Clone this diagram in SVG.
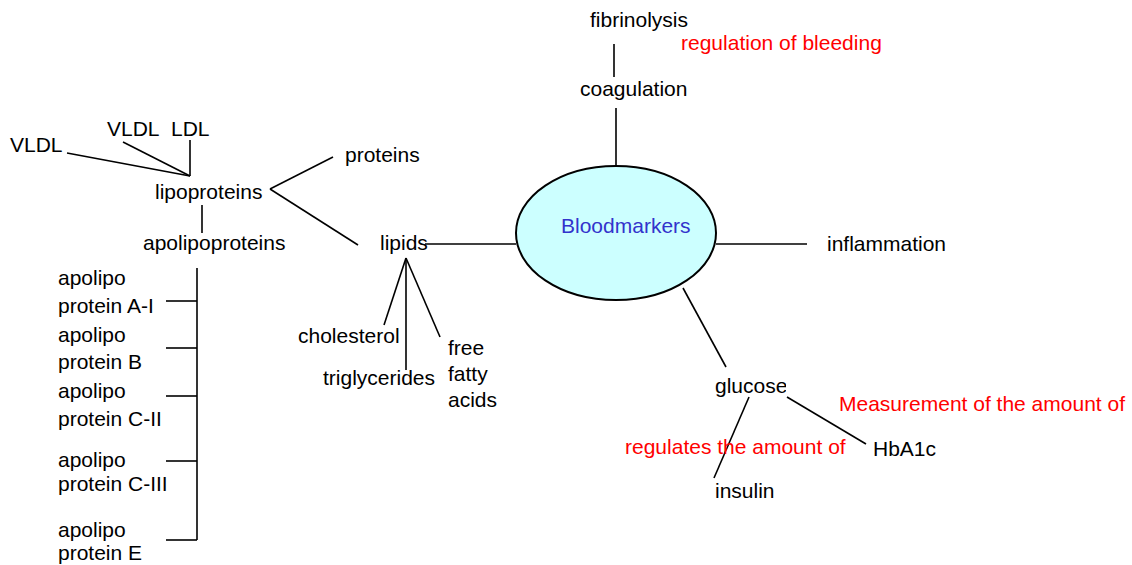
<svg xmlns="http://www.w3.org/2000/svg" width="1132" height="565" viewBox="0 0 1132 565">
  <style>
    text { font-family: "Liberation Sans", Arial, sans-serif; font-size: 21px; fill: #000; }
    .note { fill: #ff0000; }
    .hub { fill: #3333cc; }
    .links line { stroke: #000; stroke-width: 1.6; fill: none; }
  </style>
  <defs>
    <clipPath id="glucoseClip">
      <rect x="700" y="370" width="86" height="35"/>
    </clipPath>
  </defs>
  <rect width="1132" height="565" fill="#fff"/>

  <!-- connectors -->
  <g class="links">
    <line x1="614" y1="44" x2="614" y2="77"/>
    <line x1="616" y1="108" x2="616" y2="166"/>
    <line x1="716" y1="244" x2="807" y2="244"/>
    <line x1="425" y1="244" x2="516" y2="244"/>
    <line x1="683" y1="288" x2="726" y2="367"/>
    <line x1="749" y1="397" x2="714" y2="478"/>
    <line x1="787" y1="397" x2="866" y2="444"/>
    <line x1="406" y1="258" x2="384" y2="325"/>
    <line x1="406" y1="258" x2="406" y2="370"/>
    <line x1="406" y1="258" x2="440" y2="337"/>
    <line x1="333" y1="157" x2="270" y2="189"/>
    <line x1="270" y1="189" x2="358" y2="245"/>
    <line x1="67" y1="153" x2="190" y2="176"/>
    <line x1="123" y1="142" x2="190" y2="176"/>
    <line x1="190" y1="140" x2="190" y2="176"/>
    <line x1="202" y1="205" x2="202" y2="233"/>
    <line x1="197" y1="268" x2="197" y2="540"/>
    <line x1="166" y1="301" x2="197" y2="301"/>
    <line x1="166" y1="348" x2="197" y2="348"/>
    <line x1="166" y1="396" x2="197" y2="396"/>
    <line x1="166" y1="461" x2="197" y2="461"/>
    <line x1="166" y1="540" x2="197" y2="540"/>
  </g>

  <g id="bloodmarkers">
    <ellipse cx="616" cy="233" rx="100" ry="67" fill="#ccffff" stroke="#000" stroke-width="2"/>
    <text class="hub" x="561" y="233">Bloodmarkers</text>
  </g>

  <g id="fibrinolysis"><text x="590" y="27">fibrinolysis</text></g>
  <g id="bleeding-note"><text class="note" x="681" y="50">regulation of bleeding</text></g>
  <g id="coagulation"><text x="580" y="96">coagulation</text></g>
  <g id="inflammation"><text x="827" y="251">inflammation</text></g>

  <g id="glucose"><text x="715" y="393" clip-path="url(#glucoseClip)">glucose</text></g>
  <g id="hba1c-note"><text class="note" x="839" y="411">Measurement of the amount of</text></g>
  <g id="insulin-note"><text class="note" x="625" y="454">regulates the amount of</text></g>
  <g id="hba1c"><text x="873" y="456">HbA1c</text></g>
  <g id="insulin"><text x="715" y="498">insulin</text></g>

  <g id="lipids"><text x="380" y="250">lipids</text></g>
  <g id="cholesterol"><text x="298" y="343">cholesterol</text></g>
  <g id="triglycerides"><text x="323" y="385">triglycerides</text></g>
  <g id="free-fatty-acids">
    <text x="448" y="355">free</text>
    <text x="448" y="381">fatty</text>
    <text x="448" y="407">acids</text>
  </g>

  <g id="proteins"><text x="345" y="162">proteins</text></g>
  <g id="lipoproteins"><text x="155" y="199">lipoproteins</text></g>
  <g id="vldl-1"><text x="10" y="152">VLDL</text></g>
  <g id="vldl-2"><text x="107" y="136">VLDL</text></g>
  <g id="ldl"><text x="171" y="136">LDL</text></g>
  <g id="apolipoproteins"><text x="143" y="250">apolipoproteins</text></g>

  <g id="apo-a1"><text x="58" y="285">apolipo</text><text x="58" y="313">protein A-I</text></g>
  <g id="apo-b"><text x="58" y="342">apolipo</text><text x="58" y="369">protein B</text></g>
  <g id="apo-c2"><text x="58" y="398">apolipo</text><text x="58" y="426">protein C-II</text></g>
  <g id="apo-c3"><text x="58" y="467">apolipo</text><text x="58" y="491">protein C-III</text></g>
  <g id="apo-e"><text x="58" y="537">apolipo</text><text x="58" y="560">protein E</text></g>
</svg>
